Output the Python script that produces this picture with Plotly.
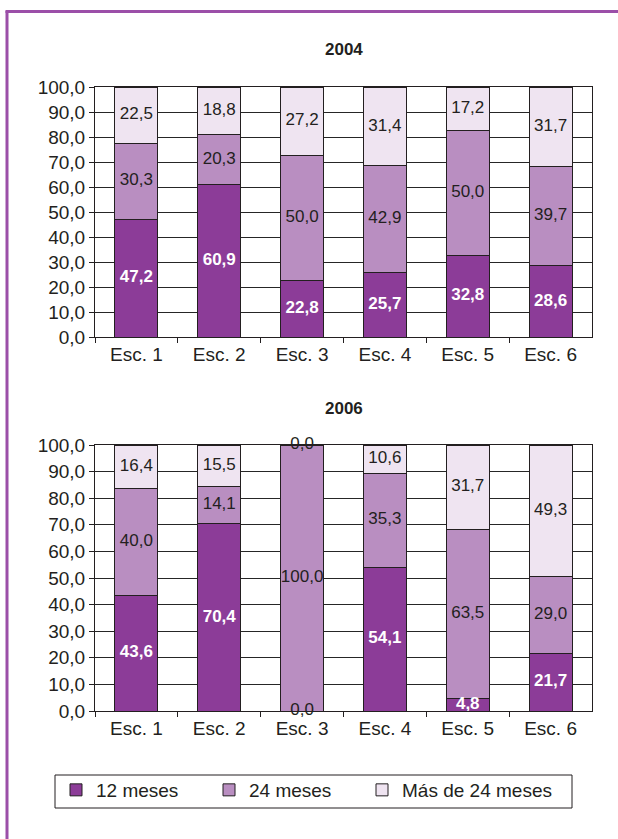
import plotly.graph_objects as go

# ---- data ----
categories = ["Esc. 1", "Esc. 2", "Esc. 3", "Esc. 4", "Esc. 5", "Esc. 6"]
series_names = ["12 meses", "24 meses", "Más de 24 meses"]
panel_titles = ["2004", "2006"]

vals_2004_12m = [47.2, 60.9, 22.8, 25.7, 32.8, 28.6]
vals_2004_24m = [30.3, 20.3, 50.0, 42.9, 50.0, 39.7]
vals_2004_mas = [22.5, 18.8, 27.2, 31.4, 17.2, 31.7]

vals_2006_12m = [43.6, 70.4, 0.0, 54.1, 4.8, 21.7]
vals_2006_24m = [40.0, 14.1, 100.0, 35.3, 63.5, 29.0]
vals_2006_mas = [16.4, 15.5, 0.0, 10.6, 31.7, 49.3]

y_ticks = [0, 10, 20, 30, 40, 50, 60, 70, 80, 90, 100]

# ---- style ----
W, H = 618, 839
FONT = "Liberation Sans, Arial, sans-serif"
DARK = "#231F20"
colors = ["#8C3C98", "#B98EC1", "#EFE4F1"]
label_colors = ["#FFFFFF", DARK, DARK]
label_weights = ["bold", "normal", "normal"]

x_dom = [95 / W, 592 / W]
y_doms = [[1 - 337 / H, 1 - 87 / H], [1 - 711 / H, 1 - 445 / H]]
title_y = [1 - 50 / H, 1 - 408 / H]

panels = [
    [vals_2004_12m, vals_2004_24m, vals_2004_mas],
    [vals_2006_12m, vals_2006_24m, vals_2006_mas],
]
legend_widths = [108, 108, 168]


def fmt(v):
    return f"{v:.1f}".replace(".", ",")


fig = go.Figure()

for p, series in enumerate(panels):
    xa = "x" if p == 0 else "x2"
    ya = "y" if p == 0 else "y2"
    bottoms = [0.0] * len(categories)
    label_sets = []
    for s, vals in enumerate(series):
        fig.add_trace(go.Bar(
            x=categories, y=vals, name=series_names[s],
            xaxis=xa, yaxis=ya,
            marker=dict(color=colors[s], line=dict(color=DARK, width=1)),
            showlegend=(p == 0), legendgroup=series_names[s],
            legendwidth=legend_widths[s],
            hoverinfo="skip",
        ))
        mids = [b + v / 2 for b, v in zip(bottoms, vals)]
        label_sets.append((mids, vals, s))
        bottoms = [b + v for b, v in zip(bottoms, vals)]
    for mids, vals, s in label_sets:
        fig.add_trace(go.Scatter(
            x=categories, y=mids, mode="text",
            text=[fmt(v) for v in vals],
            textposition="middle center",
            textfont=dict(
                family=FONT, size=17,
                color=[label_colors[s] if v > 0 else DARK for v in vals],
                weight=[label_weights[s] if v > 0 else "normal" for v in vals],
            ),
            xaxis=xa, yaxis=ya, showlegend=False, cliponaxis=False,
            hoverinfo="skip",
        ))

axis_common_x = dict(
    type="category", domain=x_dom, showline=True, linecolor=DARK, linewidth=1,
    mirror=True, ticks="outside", tickson="boundaries", ticklen=5,
    tickcolor=DARK, tickwidth=1, showgrid=False, automargin=False,
    tickfont=dict(family=FONT, size=19, color=DARK),
)
axis_common_y = dict(
    range=[0, 100], tickvals=y_ticks, tickformat=".1f",
    showline=True, linecolor=DARK, linewidth=1, mirror=True,
    ticks="outside", ticklen=5, tickcolor=DARK, tickwidth=1,
    showgrid=True, gridcolor="#262626", gridwidth=1, zeroline=False,
    automargin=False,
    tickfont=dict(family=FONT, size=19, color=DARK),
)

fig.update_layout(
    width=W, height=H, autosize=False,
    margin=dict(l=0, r=0, t=0, b=0, pad=0, autoexpand=False),
    paper_bgcolor="white", plot_bgcolor="white",
    barmode="stack", bargap=0.48,
    separators=",.",
    font=dict(family=FONT, color=DARK),
    xaxis=dict(axis_common_x, anchor="y"),
    yaxis=dict(axis_common_y, domain=y_doms[0], anchor="x"),
    xaxis2=dict(axis_common_x, anchor="y2"),
    yaxis2=dict(axis_common_y, domain=y_doms[1], anchor="x2"),
    legend=dict(
        orientation="h", x=56 / W, y=1 - 771 / H, xanchor="left", yanchor="top",
        borderwidth=0, bgcolor="rgba(0,0,0,0)",
        font=dict(family=FONT, size=19, color=DARK), traceorder="normal",
    ),
    showlegend=True,
)

for p, t in enumerate(panel_titles):
    fig.add_annotation(
        text=f"<b>{t}</b>", x=(x_dom[0] + x_dom[1]) / 2, y=title_y[p],
        xref="paper", yref="paper", showarrow=False,
        font=dict(family=FONT, size=17, color=DARK),
        xanchor="center", yanchor="middle",
    )

# legend box
fig.add_shape(type="rect", xref="paper", yref="paper",
              x0=55 / W, x1=572 / W, y0=1 - 808 / H, y1=1 - 775 / H,
              line=dict(color=DARK, width=1), fillcolor="rgba(0,0,0,0)",
              layer="below")

# purple frame (left and top edges)
frame_color = "#9B4FA8"
fig.add_shape(type="line", xref="paper", yref="paper",
              x0=7 / W, x1=7 / W, y0=0, y1=1 - 11 / H,
              line=dict(color=frame_color, width=3))
fig.add_shape(type="line", xref="paper", yref="paper",
              x0=5.5 / W, x1=1, y0=1 - 11.5 / H, y1=1 - 11.5 / H,
              line=dict(color=frame_color, width=3))

fig.write_html(
    "out.html",
    config={"displayModeBar": False, "responsive": False},
    post_script="document.body.style.margin='0';document.body.style.overflow='hidden';",
)
